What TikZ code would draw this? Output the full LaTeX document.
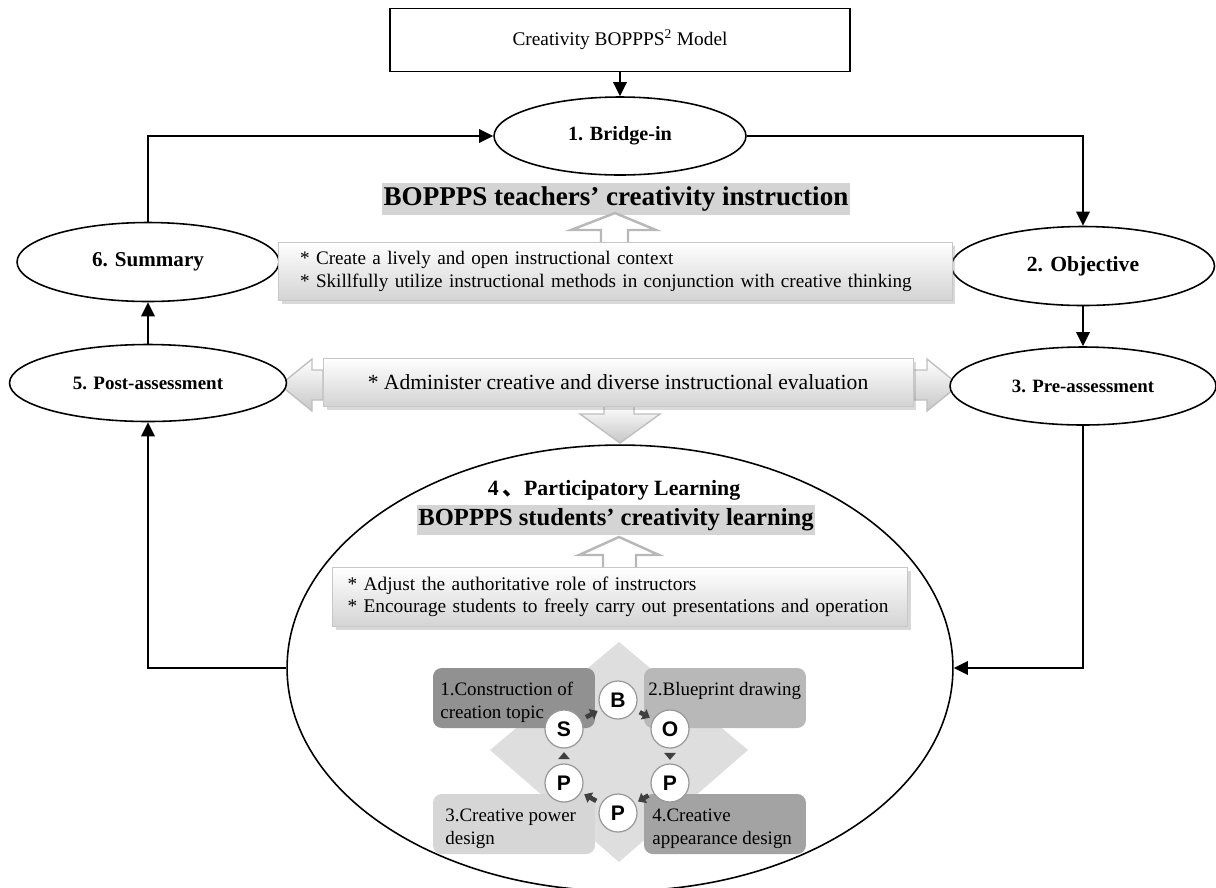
\documentclass[tikz,border=0pt]{standalone}
\usepackage{fontspec}
\setmainfont{Liberation Serif}
\newfontfamily\cjkfont{Noto Sans CJK SC}
\newfontfamily\letterfont{Liberation Sans}
\usetikzlibrary{shapes.geometric,arrows.meta,shadows}

\begin{document}
\begin{tikzpicture}[x=0.02cm,y=-0.02cm,
	stage/.style={ellipse,draw,line width=0.9pt,fill=white,inner sep=0pt,font=\bfseries\fontsize{#1}{#1}\selectfont},
	flow/.style={-{Triangle[length=8pt,width=7.5pt]},line width=1.4pt},
	infobox/.style={draw=black!22,top color=white,bottom color=black!17,drop shadow={opacity=0.3,shadow xshift=2pt,shadow yshift=-2pt},inner sep=0pt,align=left},
	hollow/.style={draw=black!28,fill=white,line width=1.4pt},
	evalarrow/.style={draw=black!25,line width=0.8pt,top color=white,bottom color=black!22},
	heading/.style={fill=black!17,inner xsep=1pt,inner ysep=2pt,font=\fontsize{#1}{#1}\selectfont\bfseries},
	tile/.style={rounded corners=5pt,inner sep=0pt,minimum width=3.24cm,minimum height=1.2cm},
	tiletext/.style={inner sep=0pt,align=left,anchor=north west,font=\fontsize{10.8}{12.8}\selectfont},
	letter/.style={circle,draw=black!40,fill=white,line width=0.7pt,minimum size=0.76cm,inner sep=0pt,font=\letterfont\bfseries\fontsize{12}{13}\selectfont},
	cycarrow/.style={-{Triangle[length=4pt,width=6.5pt]},line width=2.6pt,black!75,shorten <=3pt,shorten >=2pt}]
	\useasboundingbox (0,0) rectangle (1216,887);
	
	% participatory learning
	\node[stage=10,minimum width=13.32cm,minimum height=8.92cm] (part) at (620,668) {};
	
	% evaluation arrows
	\draw[evalarrow] (323,370) -- (312,370) -- (312,359) -- (280,385) -- (312,411) -- (312,400) -- (323,400) -- cycle;
	\draw[evalarrow] (913,370) -- (927,370) -- (927,359) -- (959,385) -- (927,411) -- (927,400) -- (913,400) -- cycle;
	\draw[evalarrow] (604,404) -- (604,414) -- (580,414) -- (620,443) -- (660,414) -- (634,414) -- (634,404) -- cycle;
	\node[infobox,minimum width=11.8cm,minimum height=0.96cm,font=\fontsize{12.3}{14}\selectfont] (eval) at (618,382) {* Administer creative and diverse instructional evaluation};
	
	% stages
	\node[draw,line width=0.9pt,minimum width=9.2cm,minimum height=1.26cm,inner sep=0pt,font=\fontsize{11}{13}\selectfont] (model) at (620,40) {Creativity BOPPPS\textsuperscript{2} Model};
	\node[stage=11.5,minimum width=5.04cm,minimum height=1.56cm] (bridge) at (620,136) {1. Bridge-in};
	\node[stage=12,minimum width=5.24cm,minimum height=1.58cm] (summary) at (148,262) {6. Summary};
	\node[stage=10.8,minimum width=5.54cm,minimum height=1.54cm] (post) at (148,383) {5. Post-assessment};
	\node[stage=12.3,minimum width=5.26cm,minimum height=1.58cm] (objective) at (1083,266) {2. Objective};
	\node[stage=10.7,minimum width=5.32cm,minimum height=1.56cm] (pre) at (1083,386) {3. Pre-assessment};
	
	% teachers
	\node[heading=15.4] (thead) at (616,199) {BOPPPS teachers’ creativity instruction};
	\draw[hollow] (601,242) -- (601,230) -- (571,230) -- (615,213) -- (656,230) -- (628,230) -- (628,242);
	\node[infobox,minimum width=13.48cm,minimum height=1.16cm,text width=12.6cm,font=\fontsize{10.9}{13}\selectfont] (tbox) at (615,271) {* Create a lively and open instructional context\\{}* Skillfully utilize instructional methods in conjunction with creative thinking};
	
	% students
	\node[font=\bfseries\fontsize{12.4}{14}\selectfont] (ptitle) at (614,490) {4\,{\cjkfont 、}Participatory Learning};
	\node[heading=14] (shead) at (616,520) {BOPPPS students’ creativity learning};
	\draw[hollow] (603,568) -- (603,555) -- (579,555) -- (619,537) -- (659,555) -- (636,555) -- (636,568);
	\node[infobox,minimum width=11.5cm,minimum height=1.18cm,text width=10.9cm,font=\fontsize{11}{12.5}\selectfont] (sbox) at (620,597) {* Adjust the authoritative role of instructors\\{}* Encourage students to freely carry out presentations and operation};
	
	% BOPPS cycle
	\fill[black!13] (619,642) -- (748,750) -- (619,862) -- (490,750) -- cycle;
	\node[tile,fill=black!43] (tile1) at (514,698) {};
	\node[tile,fill=black!28] (tile2) at (725,698) {};
	\node[tile,fill=black!16] (tile3) at (514,824) {};
	\node[tile,fill=black!36] (tile4) at (725,824) {};
	\node[tiletext] (t1) at (440,682) {1.Construction of\\creation topic};
	\node[tiletext] (t2) at (648,682) {2.Blueprint drawing};
	\node[tiletext] (t3) at (445,809) {3.Creative power\\design};
	\node[tiletext] (t4) at (652,809) {4.Creative\\appearance design};
	\foreach \n/\x/\y/\l in {cb/618/700/B,co/670/729/O,cp1/670/783/P,cp2/618/813/P,cp3/564/783/P,cs/564/729/S}
		\node[letter] (\n) at (\x,\y) {\l};
	\foreach \a/\b in {cb/co,co/cp1,cp1/cp2,cp2/cp3,cp3/cs,cs/cb}
		\draw[cycarrow] (\a) -- (\b);
	
	% connectors
	\draw[flow] (bridge.north |- model.south) -- (bridge.north);
	\draw[flow] (summary.north) -- (summary.north |- bridge.west) -- (bridge.west);
	\draw[flow] (bridge.east) -- (bridge.east -| objective.north) -- (objective.north);
	\draw[flow] (objective.south) -- (pre.north);
	\draw[flow] (pre.south) -- (pre.south |- part.east) -- (part.east);
	\draw[flow] (part.west) -- (part.west -| post.south) -- (post.south);
	\draw[flow] (post.north) -- (summary.south);
	
\end{tikzpicture}
\end{document}
